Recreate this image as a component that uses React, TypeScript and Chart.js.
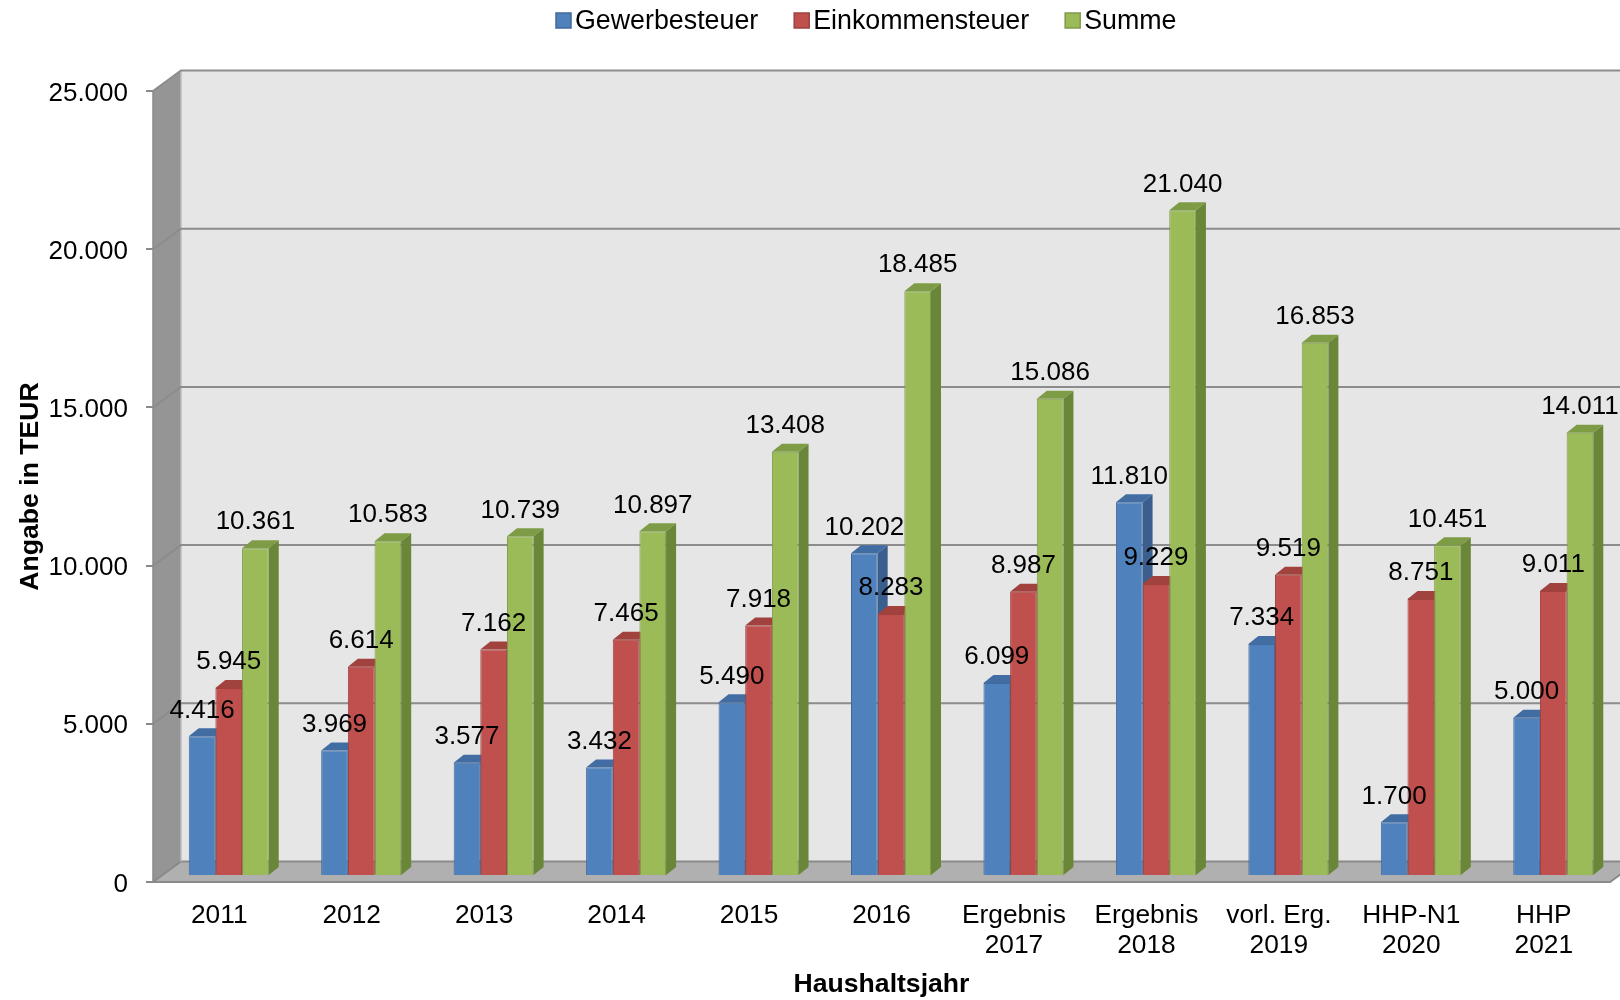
import React, { useEffect, useRef } from "react";
import { Chart, registerables } from "chart.js";

Chart.register(...registerables);

const categories: (string | string[])[] = [
  "2011", "2012", "2013", "2014", "2015", "2016",
  ["Ergebnis", "2017"], ["Ergebnis", "2018"], ["vorl. Erg.", "2019"],
  ["HHP-N1", "2020"], ["HHP", "2021"],
];
const gewerbesteuer = [4416, 3969, 3577, 3432, 5490, 10202, 6099, 11810, 7334, 1700, 5000];
const einkommensteuer = [5945, 6614, 7162, 7465, 7918, 8283, 8987, 9229, 9519, 8751, 9011];
const summe = [10361, 10583, 10739, 10897, 13408, 18485, 15086, 21040, 16853, 10451, 14011];
const seriesNames = ["Gewerbesteuer", "Einkommensteuer", "Summe"];
const yTicks = [0, 5000, 10000, 15000, 20000, 25000];

const FONT = "'Liberation Sans', Arial, sans-serif";
const FRONT = ["#4F81BD", "#C0504D", "#9BBB59"];
const BORDER = ["#41699A", "#9E413F", "#7F9A49"];
const SIDE = ["#3A5F8E", "#8F3B39", "#6A8638"];
const CAP = ["#416DA3", "#A2423F", "#7E9C45"];

// 3D geometry
const WALL_DX = 28;
const WALL_DY = -20.5;
const BAR_SHIFT_X = 9.5;
const BAR_SHIFT_Y = -6;
const BAR_DX = 10;
const BAR_DY = -8;
const DIGIT_HALF = 9.3; // half cap height of 26px digits

const fmt = (v: number) => String(Math.round(v)).replace(/\B(?=(\d{3})+(?!\d))/g, ".");

const wallsPlugin = {
  id: "walls3d",
  beforeDraw(chart: any) {
    const { ctx, chartArea } = chart;
    const { left, right, top, bottom } = chartArea;
    const yS = chart.scales.y;
    ctx.save();
    // back wall
    ctx.fillStyle = "#E6E6E6";
    ctx.fillRect(left + WALL_DX, top + WALL_DY, right - left + 40, bottom - top);
    // side wall
    ctx.fillStyle = "#959595";
    ctx.beginPath();
    ctx.moveTo(left, top);
    ctx.lineTo(left + WALL_DX, top + WALL_DY);
    ctx.lineTo(left + WALL_DX, bottom + WALL_DY);
    ctx.lineTo(left, bottom);
    ctx.closePath();
    ctx.fill();
    // floor
    ctx.fillStyle = "#B0B0B0";
    ctx.beginPath();
    ctx.moveTo(left, bottom);
    ctx.lineTo(right, bottom);
    ctx.lineTo(right + WALL_DX, bottom + WALL_DY);
    ctx.lineTo(left + WALL_DX, bottom + WALL_DY);
    ctx.closePath();
    ctx.fill();
    ctx.strokeStyle = "#8A8A8A";
    ctx.lineWidth = 2;
    ctx.stroke();
    // side wall edges
    ctx.strokeStyle = "#BDBDBD";
    ctx.lineWidth = 1.5;
    ctx.beginPath();
    ctx.moveTo(left + WALL_DX, top + WALL_DY);
    ctx.lineTo(left + WALL_DX, bottom + WALL_DY);
    ctx.stroke();
    ctx.strokeStyle = "#8A8A8A";
    ctx.beginPath();
    ctx.moveTo(left, top);
    ctx.lineTo(left, bottom);
    ctx.stroke();
    // gridlines across side wall and back wall
    ctx.strokeStyle = "#8C8C8C";
    ctx.lineWidth = 2;
    for (const v of yTicks) {
      if (v === 0) continue;
      const y = yS.getPixelForValue(v);
      ctx.beginPath();
      ctx.moveTo(left, y);
      ctx.lineTo(left + WALL_DX, y + WALL_DY);
      ctx.lineTo(right + WALL_DX + 40, y + WALL_DY);
      ctx.stroke();
    }
    ctx.restore();
  },
  beforeDatasetsDraw(chart: any) {
    const { ctx } = chart;
    ctx.save();
    ctx.translate(BAR_SHIFT_X, BAR_SHIFT_Y);
    for (let i = 0; i < chart.data.datasets.length; i++) {
      const meta = chart.getDatasetMeta(i);
      meta.data.forEach((el: any) => {
        const { x, y, base, width } = el.getProps(["x", "y", "base", "width"], true);
        const l = x - width / 2;
        const r = x + width / 2;
        // right side face
        ctx.fillStyle = SIDE[i];
        ctx.beginPath();
        ctx.moveTo(r, y);
        ctx.lineTo(r + BAR_DX, y + BAR_DY);
        ctx.lineTo(r + BAR_DX, base + BAR_DY);
        ctx.lineTo(r, base);
        ctx.closePath();
        ctx.fill();
        // top face
        ctx.fillStyle = CAP[i];
        ctx.beginPath();
        ctx.moveTo(l, y);
        ctx.lineTo(r, y);
        ctx.lineTo(r + BAR_DX, y + BAR_DY);
        ctx.lineTo(l + BAR_DX, y + BAR_DY);
        ctx.closePath();
        ctx.fill();
      });
    }
  },
  afterDatasetsDraw(chart: any) {
    const { ctx } = chart;
    ctx.restore();
    ctx.save();
    ctx.fillStyle = "#000";
    ctx.font = `26px ${FONT}`;
    ctx.textAlign = "center";
    ctx.textBaseline = "alphabetic";
    for (let i = 0; i < chart.data.datasets.length; i++) {
      const meta = chart.getDatasetMeta(i);
      const vals = chart.data.datasets[i].data as number[];
      meta.data.forEach((el: any, j: number) => {
        const { x, y } = el.getProps(["x", "y"], true);
        ctx.fillText(fmt(vals[j]), x + BAR_SHIFT_X, y + BAR_SHIFT_Y - 28 + DIGIT_HALF);
      });
    }
    ctx.restore();
  },
  afterDraw(chart: any) {
    const { ctx } = chart;
    ctx.save();
    ctx.font = `26.8px ${FONT}`;
    ctx.textBaseline = "alphabetic";
    ctx.textAlign = "left";
    let x = 556;
    const yc = 20.5;
    chart.data.datasets.forEach((ds: any, i: number) => {
      ctx.fillStyle = FRONT[i];
      ctx.fillRect(x, yc - 7.5, 15, 15);
      ctx.strokeStyle = BORDER[i];
      ctx.lineWidth = 1.5;
      ctx.strokeRect(x, yc - 7.5, 15, 15);
      x += 15 + 4;
      ctx.fillStyle = "#000";
      ctx.fillText(ds.label, x, 20 + DIGIT_HALF);
      x += ctx.measureText(ds.label).width + 36;
    });
    ctx.restore();
  },
};

export default function App() {
  const canvasRef = useRef<HTMLCanvasElement | null>(null);

  useEffect(() => {
    document.body.style.margin = "0";
    const canvas = canvasRef.current;
    if (!canvas) return;
    const seriesData = [gewerbesteuer, einkommensteuer, summe];
    const chart = new Chart(canvas, {
      type: "bar",
      data: {
        labels: categories as any,
        datasets: seriesData.map((d, i) => ({
          label: seriesNames[i],
          data: d,
          backgroundColor: FRONT[i],
          borderColor: BORDER[i],
          borderWidth: 1,
          categoryPercentage: 0.604,
          barPercentage: 1.0,
          clip: false as any,
        })),
      },
      options: {
        animation: false,
        responsive: false,
        maintainAspectRatio: false,
        devicePixelRatio: 1,
        layout: { padding: { top: 91, right: 10, bottom: 0, left: 0 } },
        plugins: {
          legend: { display: false },
          tooltip: { enabled: false },
        },
        scales: {
          x: {
            grid: { display: false, drawTicks: false },
            border: { display: false },
            ticks: {
              autoSkip: false,
              maxRotation: 0,
              minRotation: 0,
              padding: 18.5,
              color: "#000",
              font: { family: FONT, size: 26.3, lineHeight: 1.14 },
            },
            title: {
              display: true,
              text: "Haushaltsjahr",
              color: "#000",
              font: { family: FONT, size: 26.6, weight: "bold", lineHeight: 1.12 },
              padding: { top: 0, bottom: 0 },
            },
            afterFit: (s: any) => {
              s.height = 118;
            },
          },
          y: {
            min: 0,
            max: 25000,
            afterBuildTicks: (s: any) => {
              s.ticks = yTicks.map((v) => ({ value: v }));
            },
            grid: {
              drawOnChartArea: false,
              drawTicks: true,
              tickLength: 7,
              color: "#8A8A8A",
              lineWidth: 2,
            },
            border: { display: false },
            ticks: {
              padding: 18,
              labelOffset: 2.5,
              color: "#000",
              font: { family: FONT, size: 26 },
              callback: (v: any) => fmt(Number(v)),
            },
            title: {
              display: true,
              text: "Angabe in TEUR",
              color: "#000",
              font: { family: FONT, size: 26.6, weight: "bold", lineHeight: 1.2 },
              padding: { top: 14.5, bottom: 0 },
            },
            afterFit: (s: any) => {
              s.width = 153;
            },
          },
        },
      } as any,
      plugins: [wallsPlugin],
    });
    return () => chart.destroy();
  }, []);

  return (
    <div style={{ position: "fixed", left: 0, top: 0, width: 1620, height: 1000, background: "#fff" }}>
      <canvas ref={canvasRef} width={1620} height={1000} style={{ display: "block", width: 1620, height: 1000 }} />
    </div>
  );
}
